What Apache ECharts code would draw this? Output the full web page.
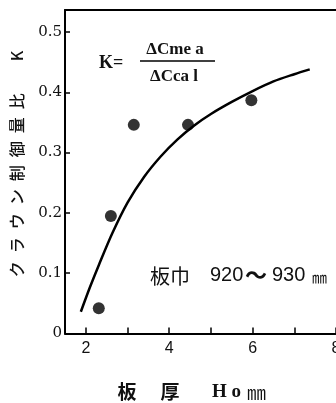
<!DOCTYPE html>
<html><head><meta charset="utf-8">
<script src="https://cdn.jsdelivr.net/npm/echarts@6/dist/echarts.min.js"></script>
<style>html,body{margin:0;padding:0;background:#fff}#c{width:336px;height:403px}</style>
</head><body><div id="c"></div>
<script>
const xTickValues = [2, 3, 4, 5, 6, 7, 8];
const xLabelValues = [2, 4, 6, 8];
const yTickValues = [0, 0.1, 0.2, 0.3, 0.4, 0.5];
const curveX = [1.88, 2.1, 2.32, 2.64, 3.0, 3.4, 3.8, 4.2, 4.6, 5.0, 5.5, 6.0, 6.5, 7.0, 7.37];
const curveY = [0.036, 0.077, 0.115, 0.167, 0.217, 0.260, 0.294, 0.322, 0.345, 0.364, 0.384, 0.402, 0.418, 0.430, 0.438];
const pointX = [2.31, 2.60, 3.15, 4.45, 5.97];
const pointY = [0.042, 0.195, 0.346, 0.346, 0.387];

const chart = echarts.init(document.getElementById('c'));
const serif = '"DejaVu Serif", "Liberation Serif", serif';
const lserif = '"Liberation Serif", serif';
const cjk = '"Noto Sans CJK JP", "Noto Sans", sans-serif';
chart.setOption({
  animation: false,
  grid: { left: 65, top: 10, right: 0, bottom: 69.5, containLabel: false, outerBoundsMode: 'none' },
  xAxis: [{
    type: 'value', min: 1.5, max: 8,
    splitLine: { show: false },
    axisLine: { lineStyle: { color: '#000', width: 2 } },
    axisTick: { inside: true, length: 6, customValues: xTickValues, lineStyle: { color: '#000', width: 1.5 } },
    axisLabel: { customValues: xLabelValues, margin: 7, color: '#111', fontSize: 16, fontFamily: '"Liberation Sans", sans-serif', hideOverlap: false }
  }, {
    type: 'value', min: 1.5, max: 8, position: 'top',
    splitLine: { show: false },
    axisLine: { show: true, lineStyle: { color: '#000', width: 2 } },
    axisTick: { show: false }, axisLabel: { show: false }
  }],
  yAxis: {
    type: 'value', min: 0, max: 0.5365,
    splitLine: { show: false },
    axisLine: { lineStyle: { color: '#000', width: 2 } },
    axisTick: { inside: true, length: 5, customValues: yTickValues, lineStyle: { color: '#000', width: 1.5 } },
    axisLabel: { customValues: yTickValues, margin: 3, color: '#111', fontSize: 15, fontFamily: serif,
      formatter: v => v === 0 ? '0' : v.toFixed(1) }
  },
  series: [{
    type: 'line', data: curveX.map((x, i) => [x, curveY[i]]),
    smooth: 0.3, showSymbol: false, symbol: 'none',
    lineStyle: { color: '#000', width: 2.5 }
  }, {
    type: 'scatter', data: pointX.map((x, i) => [x, pointY[i]]),
    symbolSize: 12, itemStyle: { color: '#000' }
  }],
  graphic: [
    { type: 'text', x: 17, y: 164, rotation: Math.PI / 2,
      style: { text: 'ク\u2002ラ\u2002ウ\u2002ン\u2002制\u2002御\u2002量\u2002比\u2003\u2003K', font: '500 16px ' + cjk, fill: '#111', align: 'center', verticalAlign: 'middle' } },
    { type: 'text', x: 127, y: 392, style: { text: '板', font: 'bold 19px ' + cjk, fill: '#111', align: 'center', verticalAlign: 'middle' } },
    { type: 'text', x: 170, y: 392, style: { text: '厚', font: 'bold 19px ' + cjk, fill: '#111', align: 'center', verticalAlign: 'middle' } },
    { type: 'text', x: 212, y: 392, style: { text: 'H o', font: 'bold 19px ' + lserif, fill: '#111', align: 'left', verticalAlign: 'middle' } },
    { type: 'text', x: 247, y: 393, style: { text: '㎜', font: '19px ' + cjk, fill: '#111', align: 'left', verticalAlign: 'middle' } },
    { type: 'text', x: 99, y: 63, style: { text: 'K=', font: 'bold 18px ' + lserif, fill: '#111', align: 'left', verticalAlign: 'middle' } },
    { type: 'text', x: 175, y: 50, style: { text: 'ΔCme a', font: 'bold 17px ' + lserif, fill: '#111', align: 'center', verticalAlign: 'middle' } },
    { type: 'line', shape: { x1: 140, y1: 61, x2: 215, y2: 61 }, style: { stroke: '#000', lineWidth: 1.5 } },
    { type: 'text', x: 174, y: 77, style: { text: 'ΔCca l', font: 'bold 17px ' + lserif, fill: '#111', align: 'center', verticalAlign: 'middle' } },
    { type: 'text', x: 150, y: 276, style: { text: '板巾', font: '20px ' + cjk, fill: '#111', align: 'left', verticalAlign: 'middle' } },
    { type: 'text', x: 210, y: 275, style: { text: '920', font: '20px "Liberation Sans", sans-serif', fill: '#111', align: 'left', verticalAlign: 'middle' } },
    { type: 'text', x: 245, y: 275, style: { text: '〜', font: 'bold 22px ' + cjk, fill: '#111', align: 'left', verticalAlign: 'middle' } },
    { type: 'text', x: 272, y: 275, style: { text: '930', font: '20px "Liberation Sans", sans-serif', fill: '#111', align: 'left', verticalAlign: 'middle' } },
    { type: 'text', x: 312, y: 277, style: { text: '㎜', font: '15px ' + cjk, fill: '#111', align: 'left', verticalAlign: 'middle' } }
  ]
});
</script></body></html>
